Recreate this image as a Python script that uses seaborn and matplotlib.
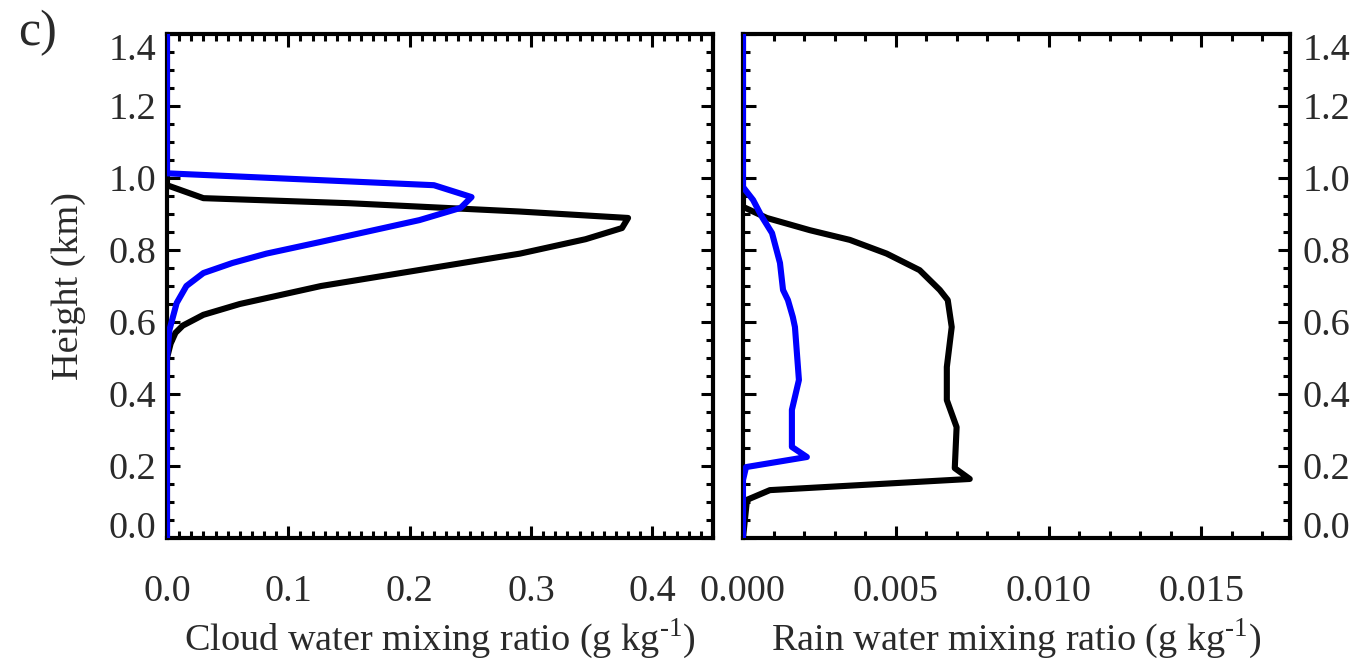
import numpy as np
import pandas as pd
import matplotlib
matplotlib.use("Agg")
import matplotlib.pyplot as plt
from matplotlib.ticker import MultipleLocator, FixedLocator, FixedFormatter
import seaborn as sns

# ---------------- data ----------------
# Left panel: cloud water mixing ratio (g/kg) vs height (km)
cw_black_h = [0.0, 0.50, 0.54, 0.57, 0.59, 0.62, 0.65, 0.70, 0.745, 0.79, 0.83, 0.861,
              0.889, 0.907, 0.93, 0.944, 0.98, 1.4]
cw_black_v = [0.0, 0.0, 0.003, 0.007, 0.013, 0.030, 0.060, 0.127, 0.209, 0.291, 0.345, 0.375,
              0.380, 0.290, 0.150, 0.030, 0.0, 0.0]
cw_blue_h = [0.0, 0.50, 0.578, 0.653, 0.70, 0.736, 0.764, 0.79, 0.822, 0.883, 0.917, 0.947,
             0.98, 1.013, 1.4]
cw_blue_v = [0.0, 0.0, 0.002, 0.008, 0.016, 0.030, 0.054, 0.082, 0.126, 0.208, 0.242, 0.251,
             0.220, 0.0, 0.0]

# Right panel: rain water mixing ratio (g/kg) vs height (km)
rw_black_h = [0.0, 0.106, 0.133, 0.164, 0.194, 0.308, 0.383, 0.475, 0.586, 0.661, 0.689,
              0.744, 0.79, 0.828, 0.855, 0.889, 0.92, 0.96, 1.4]
rw_black_v = [0.0, 0.00013, 0.00088, 0.00742, 0.00693, 0.00699, 0.00667, 0.00667, 0.00683,
              0.00670, 0.00644, 0.00578, 0.00470, 0.00350, 0.00219, 0.00078, 0.0, 0.0, 0.0]
rw_blue_h = [0.0, 0.161, 0.197, 0.225, 0.253, 0.356, 0.439, 0.586, 0.614, 0.661, 0.689,
             0.764, 0.847, 0.892, 0.939, 0.975, 1.4]
rw_blue_v = [0.0, 0.0, 0.0001, 0.00209, 0.0016, 0.0016, 0.00183, 0.0017, 0.00163, 0.00147,
             0.00131, 0.00121, 0.00095, 0.00062, 0.00033, 0.0, 0.0]

y_ticks = [0.0, 0.2, 0.4, 0.6, 0.8, 1.0, 1.2, 1.4]
y_labels = ["0.0", "0.2", "0.4", "0.6", "0.8", "1.0", "1.2", "1.4"]
cw_ticks = [0.0, 0.1, 0.2, 0.3, 0.4]
cw_labels = ["0.0", "0.1", "0.2", "0.3", "0.4"]
rw_ticks = [0.0, 0.005, 0.010, 0.015]
rw_labels = ["0.000", "0.005", "0.010", "0.015"]

panel_label = "c)"
ylabel = "Height (km)"
cw_xlabel = "Cloud water mixing ratio (g kg$^{\\text{-1}}$)"
rw_xlabel = "Rain water mixing ratio (g kg$^{\\text{-1}}$)"

# ---------------- style ----------------
sns.set_theme(style="white")
plt.rcParams["font.family"] = ["Liberation Serif", "DejaVu Serif"]
plt.rcParams["mathtext.fontset"] = "custom"
plt.rcParams["mathtext.rm"] = "Liberation Serif"
TXT = "#2a2a2a"
FS = 27.5

fig = plt.figure(figsize=(13.69, 6.66), dpi=100)
axL = fig.add_axes([167 / 1369, 128 / 666, 546 / 1369, 504 / 666])
axR = fig.add_axes([743 / 1369, 128 / 666, 547 / 1369, 504 / 666])

LW = 4.4
BLUE = "#0000ff"

def draw(ax, bh, bv, uh, uv):
    d1 = pd.DataFrame({"v": bv, "h": bh})
    d2 = pd.DataFrame({"v": uv, "h": uh})
    sns.lineplot(data=d1, x="v", y="h", orient="y", sort=False, estimator=None,
                 color="black", linewidth=LW, ax=ax, zorder=3)
    sns.lineplot(data=d2, x="v", y="h", orient="y", sort=False, estimator=None,
                 color=BLUE, linewidth=LW, ax=ax, zorder=4)

draw(axL, cw_black_h, cw_black_v, cw_blue_h, cw_blue_v)
draw(axR, rw_black_h, rw_black_v, rw_blue_h, rw_blue_v)

axL.set_xlim(0, 0.45)
axR.set_xlim(0, 0.0179)
for ax in (axL, axR):
    ax.set_ylim(0, 1.4)
    ax.set_ylabel("")
    ax.set_xlabel("")
    for s in ax.spines.values():
        s.set_visible(True)
        s.set_linewidth(3.0)
        s.set_color("black")
    ax.yaxis.set_major_locator(FixedLocator(y_ticks))
    ax.yaxis.set_major_formatter(FixedFormatter(y_labels))
    ax.yaxis.set_minor_locator(MultipleLocator(0.05))
    ax.tick_params(which="both", direction="in", top=True, bottom=True, left=True, right=True,
                   colors="black", labelcolor=TXT, labelsize=FS, width=2.2)
    ax.tick_params(which="major", length=9)
    ax.tick_params(which="minor", length=5)
    ax.tick_params(axis="x", pad=26)
    ax.grid(False)
    ax.set_facecolor("white")

axL.xaxis.set_major_locator(FixedLocator(cw_ticks))
axL.xaxis.set_major_formatter(FixedFormatter(cw_labels))
axL.xaxis.set_minor_locator(MultipleLocator(0.01))
axR.xaxis.set_major_locator(FixedLocator(rw_ticks))
axR.xaxis.set_major_formatter(FixedFormatter(rw_labels))
axR.xaxis.set_minor_locator(MultipleLocator(0.001))

axL.tick_params(axis="y", labelleft=True, labelright=False, pad=8)
axR.tick_params(axis="y", labelleft=False, labelright=True, pad=9)

# end labels shifted inward as in the reference
tL = axL.yaxis.get_major_ticks()
tL[0].label1.set_va("baseline")
tL[-1].label1.set_va("top")
tR = axR.yaxis.get_major_ticks()
tR[0].label2.set_va("baseline")
tR[-1].label2.set_va("top")

axL.set_xlabel(cw_xlabel, fontsize=FS, color=TXT, labelpad=6)
axR.set_xlabel(rw_xlabel, fontsize=FS, color=TXT, labelpad=6)
axL.set_ylabel(ylabel, fontsize=FS, color=TXT, labelpad=16)

fig.text(18 / 1369, 1 - 33 / 666, panel_label, fontsize=36, color=TXT, va="center", ha="left")

fig.savefig("out.png", dpi=100, facecolor="white")
